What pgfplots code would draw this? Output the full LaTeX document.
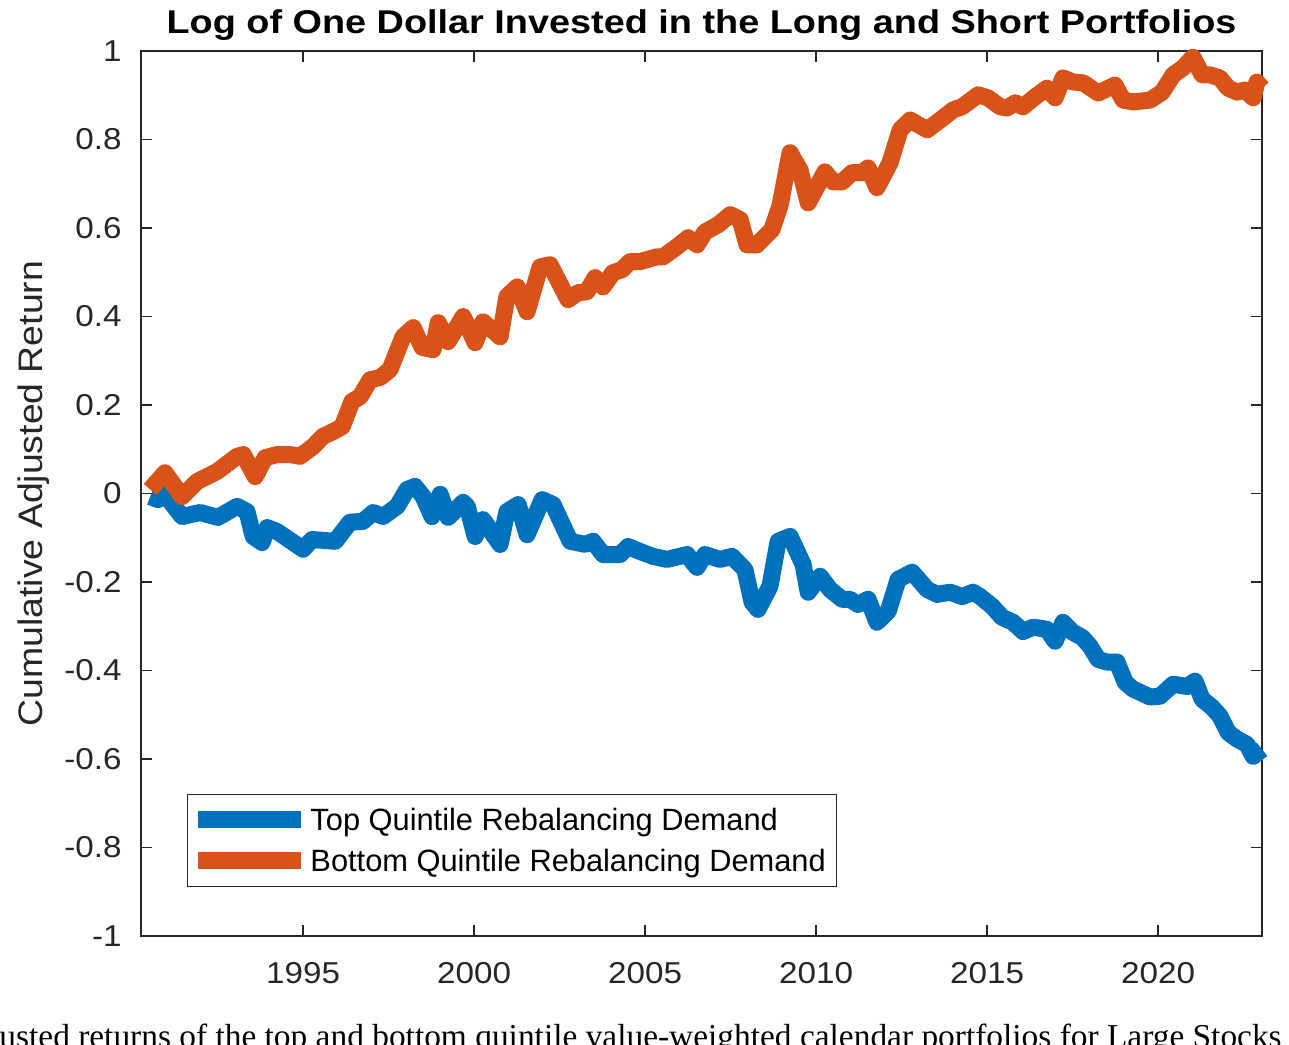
\documentclass[border=0pt]{standalone}
\usepackage{fontspec}
\setmainfont{Liberation Sans}
\newfontfamily\ticksans[FakeStretch=1.1]{Liberation Sans}
\newfontfamily\titlesans[FakeStretch=1.15]{Liberation Sans}
\newfontfamily\capserif{Liberation Serif}
\usepackage{pgfplots}
\pgfplotsset{compat=1.18}
\usepackage{pgfplotstable}

\definecolor{mblue}{rgb}{0,0.447,0.741}
\definecolor{morange}{rgb}{0.85,0.325,0.098}
\definecolor{axgray}{rgb}{0.15,0.15,0.15}

% Cumulative adjusted return, top quintile (long) portfolio
\pgfplotstableread{
year value
1990.53 -0.007
1990.76 -0.014
1990.96 -0.002
1991.46 -0.052
1991.99 -0.043
1992.51 -0.054
1993.07 -0.029
1993.36 -0.041
1993.54 -0.097
1993.80 -0.111
1993.95 -0.077
1994.24 -0.086
1995.00 -0.126
1995.26 -0.104
1995.94 -0.108
1996.37 -0.065
1996.75 -0.063
1997.05 -0.043
1997.34 -0.052
1997.75 -0.029
1998.04 0.009
1998.27 0.016
1998.51 -0.007
1998.77 -0.052
1999.01 -0.002
1999.24 -0.054
1999.68 -0.020
1999.80 -0.029
2000.03 -0.097
2000.26 -0.059
2000.76 -0.115
2000.96 -0.041
2001.29 -0.025
2001.55 -0.093
2001.99 -0.014
2002.31 -0.025
2002.81 -0.108
2003.25 -0.115
2003.48 -0.108
2003.77 -0.138
2004.27 -0.138
2004.50 -0.120
2004.85 -0.131
2005.23 -0.142
2005.64 -0.149
2006.23 -0.138
2006.40 -0.156
2006.52 -0.167
2006.75 -0.138
2007.19 -0.149
2007.54 -0.142
2007.92 -0.172
2008.13 -0.246
2008.30 -0.262
2008.65 -0.210
2008.89 -0.108
2009.24 -0.097
2009.62 -0.160
2009.77 -0.223
2010.12 -0.187
2010.41 -0.217
2010.76 -0.239
2010.99 -0.239
2011.23 -0.251
2011.52 -0.239
2011.78 -0.291
2012.11 -0.266
2012.40 -0.194
2012.81 -0.178
2013.25 -0.217
2013.54 -0.228
2013.92 -0.223
2014.27 -0.233
2014.59 -0.223
2014.80 -0.233
2015.15 -0.255
2015.44 -0.280
2015.76 -0.291
2016.05 -0.312
2016.35 -0.302
2016.75 -0.307
2016.99 -0.334
2017.22 -0.291
2017.51 -0.314
2017.78 -0.325
2018.01 -0.345
2018.25 -0.375
2018.51 -0.381
2018.80 -0.381
2019.04 -0.427
2019.27 -0.442
2019.77 -0.460
2020.06 -0.458
2020.44 -0.431
2020.85 -0.436
2021.08 -0.424
2021.29 -0.465
2021.58 -0.483
2021.81 -0.503
2022.05 -0.540
2022.31 -0.555
2022.60 -0.567
2022.78 -0.594
2023.04 -0.578
}\topq

% Cumulative adjusted return, bottom quintile (short) portfolio
\pgfplotstableread{
year value
1990.53 0.009
1990.96 0.047
1991.46 -0.007
1991.90 0.027
1992.49 0.050
1993.07 0.084
1993.25 0.088
1993.60 0.038
1993.89 0.081
1994.24 0.088
1994.62 0.088
1994.91 0.084
1995.29 0.106
1995.58 0.129
1995.88 0.140
1996.14 0.151
1996.43 0.208
1996.67 0.219
1996.96 0.257
1997.25 0.262
1997.54 0.280
1997.92 0.354
1998.22 0.375
1998.48 0.330
1998.80 0.325
1998.95 0.386
1999.24 0.343
1999.68 0.400
2000.03 0.341
2000.26 0.388
2000.76 0.354
2000.96 0.445
2001.26 0.467
2001.55 0.411
2001.93 0.512
2002.22 0.517
2002.75 0.438
2003.04 0.454
2003.30 0.456
2003.54 0.488
2003.77 0.467
2004.06 0.499
2004.33 0.506
2004.56 0.524
2004.85 0.524
2005.35 0.535
2005.53 0.535
2005.94 0.558
2006.26 0.578
2006.52 0.562
2006.75 0.591
2007.13 0.607
2007.49 0.630
2007.78 0.619
2007.98 0.562
2008.27 0.562
2008.71 0.596
2008.95 0.652
2009.24 0.770
2009.53 0.731
2009.77 0.657
2010.26 0.727
2010.50 0.704
2010.76 0.704
2011.05 0.725
2011.35 0.725
2011.52 0.736
2011.78 0.691
2012.16 0.747
2012.46 0.822
2012.75 0.844
2013.25 0.822
2013.63 0.844
2014.01 0.867
2014.27 0.874
2014.74 0.901
2015.03 0.894
2015.38 0.874
2015.58 0.871
2015.82 0.883
2016.05 0.874
2016.40 0.896
2016.75 0.916
2016.99 0.894
2017.22 0.939
2017.51 0.930
2017.81 0.928
2018.25 0.905
2018.74 0.923
2018.98 0.889
2019.27 0.885
2019.77 0.889
2020.12 0.907
2020.44 0.946
2020.73 0.962
2021.02 0.986
2021.29 0.946
2021.52 0.946
2021.81 0.939
2022.05 0.916
2022.31 0.907
2022.54 0.912
2022.78 0.894
2022.89 0.930
2023.04 0.916
}\botq

\begin{document}
\begin{tikzpicture}
\useasboundingbox (-70.5pt,-54pt) rectangle (574pt,468pt);
\begin{axis}[
  at={(0pt,0pt)}, anchor=south west,
  scale only axis, width=560.5pt, height=442.5pt,
  xmin=1990.26, xmax=2023.04, ymin=-1, ymax=1,
  clip=false,
  axis line style={axgray, line width=0.6pt},
  every tick/.style={axgray, line width=0.6pt},
  tick align=inside, major tick length=5.5pt,
  xtick pos=both, ytick pos=both,
  xtick={1995,2000,2005,2010,2015,2020},
  xticklabels={1995,2000,2005,2010,2015,2020},
  ytick={-1,-0.8,-0.6,-0.4,-0.2,0,0.2,0.4,0.6,0.8,1},
  yticklabels={-1,-0.8,-0.6,-0.4,-0.2,0,0.2,0.4,0.6,0.8,1},
  /pgf/number format/assume math mode=true,
  ticklabel style={font=\ticksans\fontsize{15.1}{18}\selectfont, text=axgray},
  xticklabel style={anchor=north, inner sep=0pt, yshift=-13pt},
  yticklabel style={anchor=east, inner sep=0pt, xshift=-9.5pt},
  title={Log of One Dollar Invested in the Long and Short Portfolios},
  title style={at={(axis description cs:0.5,1)}, anchor=base, yshift=2.85pt,
    inner sep=0pt, font=\titlesans\bfseries\fontsize{16.45}{20}\selectfont},
  ylabel={Cumulative Adjusted Return},
  ylabel style={at={(axis description cs:-0.0883,0.5)}, anchor=base,
    inner sep=0pt, font=\ticksans\fontsize{17}{20}\selectfont, text=axgray},
  % legend sample: a wide bar, its bounding path kept narrower than the bar
  legend image code/.code={%
    \path (0pt,0pt) -- (43pt,0pt);
    \draw[#1, overlay, line cap=butt] (-4.5pt,0pt) -- (47pt,0pt);},
  legend cell align=left,
  legend style={at={(axis description cs:0.041,0.0554)}, anchor=south west,
    draw=axgray, line width=0.5pt, fill=white,
    inner xsep=5.5pt, inner ysep=7.5pt, row sep=10pt, column sep=4.5pt,
    font=\fontsize{15.4}{18}\selectfont,
    nodes={inner sep=0pt, text height=10.6pt, text depth=0pt}},
]
\addplot[mblue, line width=8.5pt, line join=round, line cap=butt]
  table[x=year, y=value]{\topq};
\addlegendentry{Top Quintile Rebalancing Demand}
\addplot[morange, line width=8.5pt, line join=round, line cap=butt]
  table[x=year, y=value]{\botq};
\addlegendentry{Bottom Quintile Rebalancing Demand}
\end{axis}
\node[anchor=base east, inner sep=0pt, font=\capserif\fontsize{16.7}{20}\selectfont]
  at (570.5pt,-55.5pt)
  {adjusted returns of the top and bottom quintile value-weighted calendar portfolios for Large Stocks};
\end{tikzpicture}
\end{document}
